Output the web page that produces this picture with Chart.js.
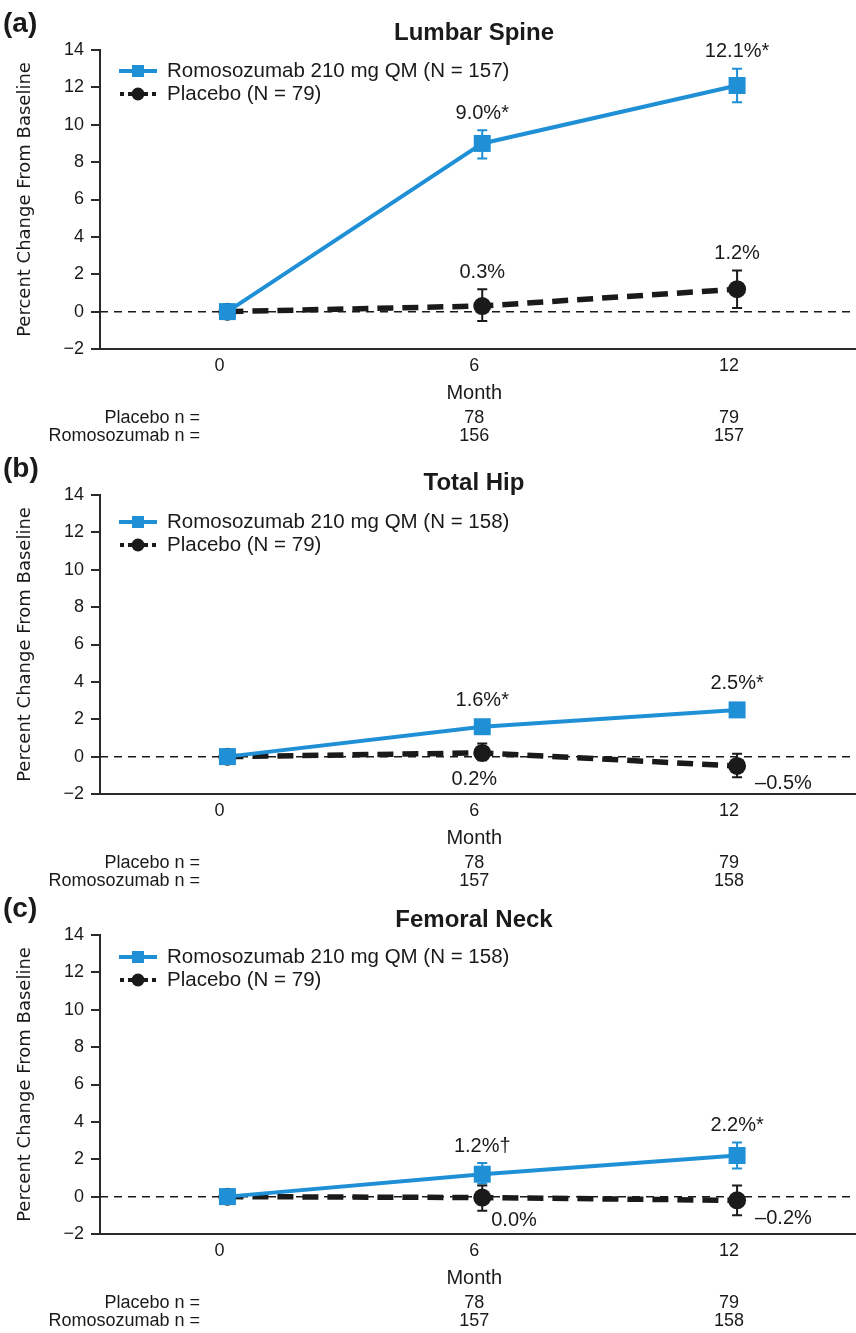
<!DOCTYPE html>
<html>
<head>
<meta charset="utf-8">
<script src="https://cdn.jsdelivr.net/npm/chart.js@4"></script>
<style>
body { margin: 0; background: #fff; position: relative; width: 856px; height: 1333px; overflow: hidden; }
canvas { display: block; position: absolute; left: 0; }
</style>
</head>
<body>
<canvas id="chart-0" width="856" height="452" style="top:0px"></canvas>
<canvas id="chart-1" width="856" height="452" style="top:445px"></canvas>
<canvas id="chart-2" width="856" height="448" style="top:885px"></canvas>
<script>
// x axis (months) and tick labels
var months = [0, 6, 12];
var monthTicks = [0, 6, 12];
var yTicks = [-2, 0, 2, 4, 6, 8, 10, 12, 14];

var panelLetters = ["(a)", "(b)", "(c)"];
var siteNames = ["Lumbar Spine", "Total Hip", "Femoral Neck"];
var romoN = [157, 158, 158];
var placeboN = [79, 79, 79];

// Lumbar spine - percent change from baseline + error bar ends
var romoSpine = [0, 9.0, 12.1];
var romoSpineLow = [null, 8.2, 11.2];
var romoSpineHigh = [null, 9.7, 13.0];
var placeboSpine = [0, 0.3, 1.2];
var placeboSpineLow = [null, -0.5, 0.2];
var placeboSpineHigh = [null, 1.2, 2.2];

// Total hip
var romoHip = [0, 1.6, 2.5];
var romoHipLow = [null, 1.35, 2.2];
var romoHipHigh = [null, 1.9, 2.8];
var placeboHip = [0, 0.2, -0.5];
var placeboHipLow = [null, -0.2, -1.1];
var placeboHipHigh = [null, 0.7, 0.15];

// Femoral neck
var romoNeck = [0, 1.2, 2.2];
var romoNeckLow = [null, 0.7, 1.5];
var romoNeckHigh = [null, 1.8, 2.9];
var placeboNeck = [0, -0.05, -0.2];
var placeboNeckLow = [null, -0.75, -1.0];
var placeboNeckHigh = [null, 0.6, 0.6];

// value labels printed next to the points
var romoText = [["", "9.0%*", "12.1%*"], ["", "1.6%*", "2.5%*"], ["", "1.2%\u2020", "2.2%*"]];
var placeboText = [["", "0.3%", "1.2%"], ["", "0.2%", "\u20130.5%"], ["", "0.0%", "\u20130.2%"]];

// patients at each visit (months 6 and 12)
var atRiskMonths = [6, 12];
var placeboAtRisk = [[78, 79], [78, 79], [78, 79]];
var romoAtRisk = [[156, 157], [157, 158], [157, 158]];

var FONT = "'Liberation Sans', Arial, Helvetica, sans-serif";
var BLUE = "#1f8fd6";
var INK = "#1a1a1a";
var AXIS = "#2a2a2a";

// where each value label goes relative to its point
var labelPlace = [
    { romo: ["", "above", "above"], placebo: ["", "above", "above"] },
    { romo: ["", "above", "above"], placebo: ["", "below", "right"] },
    { romo: ["", "above", "above"], placebo: ["", "rightNear", "right"] }
];
var legendOffset = [21, 27, 22];
var titleOffset = [17, 12, 15];

var decorPlugin = {
    id: "decor",
    beforeDatasetsDraw: function (chart) {
        var ctx = chart.ctx;
        var area = chart.chartArea;
        var xs = chart.scales.x;
        var ys = chart.scales.y;
        var y0 = ys.getPixelForValue(0);

        // dashed baseline at 0
        ctx.save();
        ctx.strokeStyle = INK;
        ctx.lineWidth = 1.5;
        ctx.setLineDash([8, 6]);
        ctx.beginPath();
        ctx.moveTo(area.left, y0);
        ctx.lineTo(area.right, y0);
        ctx.stroke();
        ctx.restore();

        // error bars
        chart.data.datasets.forEach(function (ds) {
            ctx.save();
            ctx.strokeStyle = ds.borderColor;
            ctx.lineWidth = 2;
            for (var i = 0; i < months.length; i++) {
                if (ds.errLow[i] === null) continue;
                var px = xs.getPixelForValue(months[i]);
                var lo = ys.getPixelForValue(ds.errLow[i]);
                var hi = ys.getPixelForValue(ds.errHigh[i]);
                ctx.beginPath();
                ctx.moveTo(px, lo); ctx.lineTo(px, hi);
                ctx.moveTo(px - 5, lo); ctx.lineTo(px + 5, lo);
                ctx.moveTo(px - 5, hi); ctx.lineTo(px + 5, hi);
                ctx.stroke();
            }
            ctx.restore();
        });
    },
    afterDraw: function (chart, args, opts) {
        var ctx = chart.ctx;
        var area = chart.chartArea;
        var xs = chart.scales.x;
        var ys = chart.scales.y;
        var p = opts.panel;

        ctx.save();
        ctx.fillStyle = INK;
        ctx.textBaseline = "middle";

        // panel letter + title
        ctx.font = "bold 28px " + FONT;
        ctx.textAlign = "left";
        ctx.fillText(panelLetters[p], 3, area.top - 26);
        ctx.font = "bold 24px " + FONT;
        ctx.textAlign = "center";
        ctx.fillText(siteNames[p], (area.left + area.right) / 2 - 4, area.top - titleOffset[p]);

        // legend
        var ly1 = area.top + legendOffset[p];
        var ly2 = ly1 + 23;
        var lx = area.left + 19;
        ctx.strokeStyle = BLUE;
        ctx.lineWidth = 4;
        ctx.beginPath(); ctx.moveTo(lx, ly1); ctx.lineTo(lx + 38, ly1); ctx.stroke();
        ctx.fillStyle = BLUE;
        ctx.fillRect(lx + 19 - 6, ly1 - 6, 12, 12);
        ctx.strokeStyle = INK;
        ctx.setLineDash([4, 4]);
        ctx.beginPath(); ctx.moveTo(lx + 1, ly2); ctx.lineTo(lx + 38, ly2); ctx.stroke();
        ctx.setLineDash([]);
        ctx.fillStyle = INK;
        ctx.beginPath(); ctx.arc(lx + 19, ly2, 6.5, 0, Math.PI * 2); ctx.fill();
        ctx.font = "20.5px " + FONT;
        ctx.textAlign = "left";
        ctx.fillText("Romosozumab 210 mg QM (N = " + romoN[p] + ")", lx + 48, ly1);
        ctx.fillText("Placebo (N = " + placeboN[p] + ")", lx + 48, ly2);

        // value labels
        ctx.font = "20px " + FONT;
        chart.data.datasets.forEach(function (ds) {
            var place = labelPlace[p][ds.key];
            for (var i = 0; i < months.length; i++) {
                var txt = ds.valueText[i];
                if (!txt) continue;
                var px = xs.getPixelForValue(months[i]);
                var py = ys.getPixelForValue(ds.data[i].y);
                var hi = ys.getPixelForValue(ds.errHigh[i]);
                var lo = ys.getPixelForValue(ds.errLow[i]);
                if (place[i] === "above") {
                    ctx.textAlign = "center";
                    ctx.fillText(txt, px, Math.min(py - 9, hi) - 17);
                } else if (place[i] === "below") {
                    ctx.textAlign = "center";
                    ctx.fillText(txt, px - 8, Math.max(py + 9, lo) + 18);
                } else if (place[i] === "rightNear") {
                    ctx.textAlign = "left";
                    ctx.fillText(txt, px + 9, py + 23);
                } else {
                    ctx.textAlign = "left";
                    ctx.fillText(txt, px + 18, py + 18);
                }
            }
        });

        // x axis title
        ctx.textAlign = "center";
        ctx.font = "20px " + FONT;
        ctx.fillText("Month", xs.getPixelForValue(6) - 8, area.bottom + 44);

        // n at each visit
        ctx.font = "18px " + FONT;
        ctx.textAlign = "right";
        ctx.fillText("Placebo n =", area.left + 100, area.bottom + 69);
        ctx.fillText("Romosozumab n =", area.left + 100, area.bottom + 87);
        ctx.textAlign = "center";
        for (var k = 0; k < atRiskMonths.length; k++) {
            var nx = xs.getPixelForValue(atRiskMonths[k]) - 8;
            ctx.fillText(String(placeboAtRisk[p][k]), nx, area.bottom + 69);
            ctx.fillText(String(romoAtRisk[p][k]), nx, area.bottom + 87);
        }
        ctx.restore();
    }
};

var panels = [
    { romo: romoSpine, romoLow: romoSpineLow, romoHigh: romoSpineHigh,
      placebo: placeboSpine, placeboLow: placeboSpineLow, placeboHigh: placeboSpineHigh },
    { romo: romoHip, romoLow: romoHipLow, romoHigh: romoHipHigh,
      placebo: placeboHip, placeboLow: placeboHipLow, placeboHigh: placeboHipHigh },
    { romo: romoNeck, romoLow: romoNeckLow, romoHigh: romoNeckHigh,
      placebo: placeboNeck, placeboLow: placeboNeckLow, placeboHigh: placeboNeckHigh }
];

function makeChart(p) {
    var canvas = document.getElementById("chart-" + p);
    var pd = panels[p];
    var toXY = function (vals) {
        return vals.map(function (v, i) { return { x: months[i], y: v }; });
    };
    return new Chart(canvas, {
        type: "line",
        data: {
            datasets: [
                {
                    key: "romo",
                    label: "Romosozumab 210 mg QM (N = " + romoN[p] + ")",
                    data: toXY(pd.romo),
                    errLow: pd.romoLow,
                    errHigh: pd.romoHigh,
                    valueText: romoText[p],
                    borderColor: BLUE,
                    backgroundColor: BLUE,
                    borderWidth: 4,
                    pointStyle: "rect",
                    pointRadius: 12,
                    pointBorderWidth: 0,
                    pointBackgroundColor: BLUE,
                    tension: 0
                },
                {
                    key: "placebo",
                    label: "Placebo (N = " + placeboN[p] + ")",
                    data: toXY(pd.placebo),
                    errLow: pd.placeboLow,
                    errHigh: pd.placeboHigh,
                    valueText: placeboText[p],
                    borderColor: INK,
                    backgroundColor: INK,
                    borderWidth: 5.5,
                    borderDash: [16, 9],
                    pointStyle: "circle",
                    pointRadius: 9,
                    pointBorderWidth: 0,
                    pointBackgroundColor: INK,
                    tension: 0
                }
            ]
        },
        options: {
            responsive: false,
            animation: false,
            parsing: { xAxisKey: "x", yAxisKey: "y" },
            layout: {
                autoPadding: false,
                padding: { top: 50, right: 0, left: 0, bottom: canvas.height - 349 - 30 }
            },
            plugins: {
                legend: { display: false },
                tooltip: { enabled: false },
                decor: { panel: p }
            },
            scales: {
                x: {
                    type: "linear",
                    min: -3,
                    max: 14.8,
                    afterBuildTicks: function (s) {
                        s.ticks = monthTicks.map(function (v) { return { value: v }; });
                    },
                    afterFit: function (s) {
                        s.height = 30;
                        s.paddingLeft = 0;
                        s.paddingRight = 0;
                    },
                    ticks: {
                        autoSkip: false,
                        maxRotation: 0,
                        padding: 6,
                        labelOffset: -8,
                        color: INK,
                        font: { family: FONT, size: 18 },
                        callback: function (v) { return String(v); }
                    },
                    grid: { display: false, drawTicks: false },
                    border: { display: true, color: AXIS, width: 2 }
                },
                y: {
                    min: -2,
                    max: 14,
                    afterBuildTicks: function (s) {
                        s.ticks = yTicks.map(function (v) { return { value: v }; });
                    },
                    afterFit: function (s) { s.width = 100; },
                    ticks: {
                        padding: 7,
                        color: INK,
                        font: { family: FONT, size: 18 },
                        callback: function (v) { return v < 0 ? "\u2212" + Math.abs(v) : String(v); }
                    },
                    grid: { drawOnChartArea: false, drawTicks: true, tickLength: 9, color: AXIS, lineWidth: 2 },
                    border: { display: true, color: AXIS, width: 2 },
                    title: {
                        display: true,
                        text: "Percent Change From Baseline",
                        color: INK,
                        font: { family: "'DejaVu Sans', Verdana, sans-serif", size: 18 },
                        padding: { top: 15, bottom: 0 }
                    }
                }
            }
        },
        plugins: [decorPlugin]
    });
}

for (var p = 0; p < 3; p++) {
    makeChart(p);
}
</script>
</body>
</html>
